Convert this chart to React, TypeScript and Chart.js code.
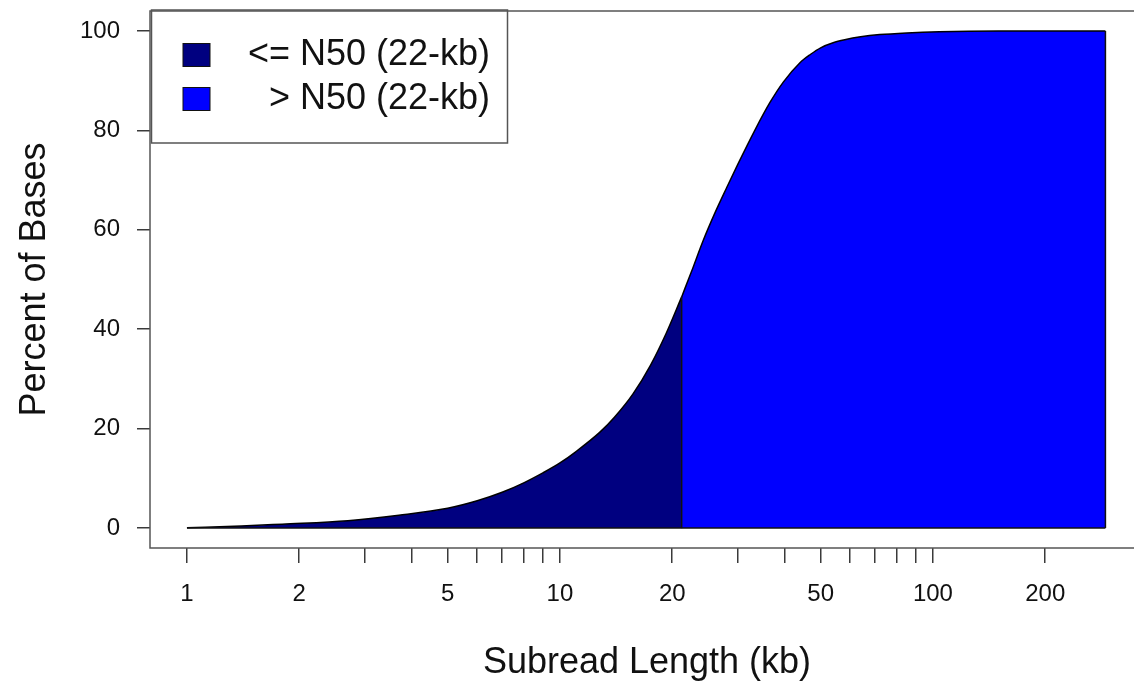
import React, { useEffect, useRef } from 'react';
import { Chart, registerables } from 'chart.js';

Chart.register(...registerables);

// ---- data (subread length in kb, cumulative percent of bases) ----
const navyX = [1.0, 1.4, 1.8, 2.7, 3.7, 5, 6, 7, 8, 9, 10, 11, 12.8, 14, 15.7, 17.5, 19.3, 21.2];
const navyY = [0.05, 0.4, 0.8, 1.5, 2.6, 4.0, 5.5, 7.2, 9.1, 11.1, 13.1, 15.3, 19.3, 22.3, 27, 32.8, 39.3, 46.5];

const blueX = [21.2, 22.5, 24.2, 26, 28, 30, 33.3, 36.5, 39.7, 44, 47, 50, 54, 58, 64, 72, 85, 104, 150, 290];
const blueY = [46.5, 51.5, 57.8, 63.3, 68.5, 73.2, 80, 85.5, 89.7, 93.6, 95.3, 96.6, 97.6, 98.2, 98.8, 99.25, 99.6, 99.85, 100, 100];

const xTickValues = [1, 2, 3, 4, 5, 6, 7, 8, 9, 10, 20, 30, 40, 50, 60, 70, 80, 90, 100, 200];
const xLabelValues = [1, 2, 5, 10, 20, 50, 100, 200];
const yTickValues = [0, 20, 40, 60, 80, 100];

const legendLabels = ['<= N50 (22-kb)', '> N50 (22-kb)'];
const legendColors = ['#000080', '#0000ff'];

const FONT = "'Liberation Sans', Arial, Helvetica, sans-serif";

const pts = (xs: number[], ys: number[]) => xs.map((x, i) => ({ x, y: ys[i] }));

export default function App() {
  const ref = useRef<HTMLCanvasElement>(null);

  useEffect(() => {
    if (!ref.current) return;
    const nl = navyX.length - 1;
    const bl = blueX.length - 1;

    const boxPlugin = {
      id: 'rbox',
      afterDraw(chart: any) {
        const { ctx, chartArea: a } = chart;
        ctx.save();
        ctx.strokeStyle = '#555';
        ctx.lineWidth = 1.5;
        ctx.strokeRect(a.left, a.top, a.right - a.left, a.bottom - a.top);
        // legend
        const lx = a.left + 1.5;
        const ly = a.top - 1;
        const lw = 356;
        const lh = 133;
        ctx.strokeStyle = '#555';
        ctx.strokeRect(lx, ly, lw, lh);
        ctx.font = `36px ${FONT}`;
        ctx.textAlign = 'right';
        ctx.textBaseline = 'middle';
        legendLabels.forEach((lab, i) => {
          const cy = a.top + 44 + i * 44;
          ctx.fillStyle = legendColors[i];
          ctx.fillRect(a.left + 33, cy - 11.5, 27, 23);
          ctx.strokeStyle = '#111';
          ctx.lineWidth = 1;
          ctx.strokeRect(a.left + 33, cy - 11.5, 27, 23);
          ctx.fillStyle = '#111';
          ctx.fillText(lab, a.left + 340, cy);
        });
        ctx.restore();
      },
    };

    const edge = (data: { x: number; y: number }[]) => ({
      label: '',
      data,
      borderColor: '#111',
      borderWidth: 1.5,
      fill: false,
      pointRadius: 0,
      tension: 0,
    });

    const chart = new Chart(ref.current, {
      type: 'line',
      data: {
        datasets: [
          edge([{ x: navyX[nl], y: 0 }, { x: navyX[nl], y: navyY[nl] }]),
          edge([{ x: blueX[bl], y: 0 }, { x: blueX[bl], y: blueY[bl] }]),
          edge([{ x: navyX[0], y: 0 }, { x: blueX[bl], y: 0 }]),
          {
            label: legendLabels[0],
            data: pts(navyX, navyY),
            borderColor: '#000',
            borderWidth: 1.5,
            backgroundColor: legendColors[0],
            fill: 'origin',
            pointRadius: 0,
            cubicInterpolationMode: 'monotone',
          },
          {
            label: legendLabels[1],
            data: pts(blueX, blueY),
            borderColor: '#000',
            borderWidth: 1.5,
            backgroundColor: legendColors[1],
            fill: 'origin',
            pointRadius: 0,
            cubicInterpolationMode: 'monotone',
          },
        ],
      },
      options: {
        responsive: false,
        animation: false,
        devicePixelRatio: 1,
        layout: { padding: { top: 11, right: 16, left: 0, bottom: 0 } },
        plugins: {
          legend: { display: false },
          tooltip: { enabled: false },
        },
        scales: {
          x: {
            type: 'logarithmic',
            min: 0.796,
            max: 368,
            afterBuildTicks: (s: any) => {
              s.ticks = xTickValues.map((v) => ({ value: v }));
            },
            afterFit: (s: any) => {
              s.height = 137;
              s.paddingLeft = 0;
              s.paddingRight = 0;
              s.paddingTop = 0;
              s.paddingBottom = 0;
            },
            grid: {
              display: true,
              drawOnChartArea: false,
              drawTicks: true,
              tickLength: 15,
              color: '#3a3a3a',
              lineWidth: 1.5,
            },
            border: { display: false },
            ticks: {
              autoSkip: false,
              maxRotation: 0,
              minRotation: 0,
              padding: 17,
              color: '#111',
              font: { family: FONT, size: 24 },
              callback: (v: any) => (xLabelValues.includes(Number(v)) ? String(v) : ''),
            },
            title: {
              display: true,
              text: 'Subread Length (kb)',
              color: '#111',
              font: { family: FONT, size: 36 },
              padding: { top: 0, bottom: 0 },
            },
          },
          y: {
            type: 'linear',
            min: -4,
            max: 104,
            afterBuildTicks: (s: any) => {
              s.ticks = yTickValues.map((v) => ({ value: v }));
            },
            afterFit: (s: any) => {
              s.width = 150;
              s.paddingTop = 0;
              s.paddingBottom = 0;
              s.paddingLeft = 0;
              s.paddingRight = 0;
            },
            grid: {
              display: true,
              drawOnChartArea: false,
              drawTicks: true,
              tickLength: 13,
              color: '#3a3a3a',
              lineWidth: 1.5,
            },
            border: { display: false },
            ticks: {
              padding: 17,
              color: '#111',
              font: { family: FONT, size: 24 },
              callback: (v: any) => String(v),
            },
            title: {
              display: true,
              text: 'Percent of Bases',
              color: '#111',
              font: { family: FONT, size: 36 },
              padding: { top: 13, bottom: 0 },
            },
          },
        },
      },
      plugins: [boxPlugin],
    } as any);

    return () => chart.destroy();
  }, []);

  return (
    <div
      style={{
        position: 'absolute',
        left: 0,
        top: 0,
        width: 1134,
        height: 685,
        overflow: 'hidden',
        background: '#fff',
      }}
    >
      <canvas ref={ref} width={1160} height={685} style={{ display: 'block' }} />
    </div>
  );
}
